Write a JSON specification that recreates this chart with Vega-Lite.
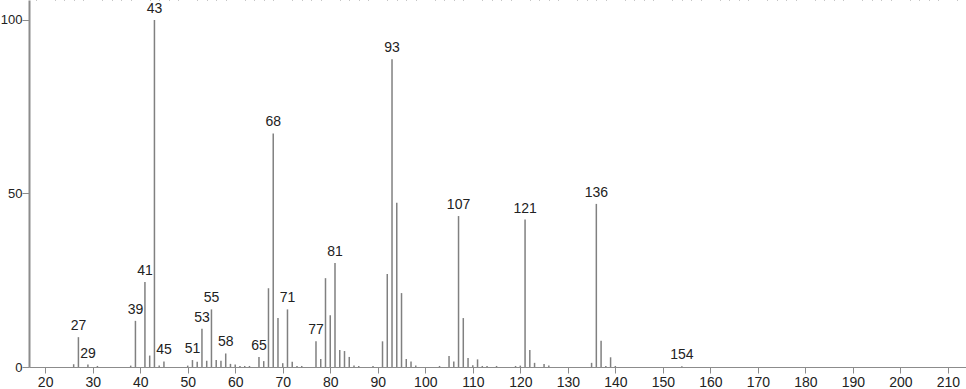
{
  "$schema": "https://vega.github.io/schema/vega-lite/v6.json",
  "width": 937,
  "height": 367,
  "autosize": {"type": "none"},
  "padding": {"left": 29, "top": 0, "right": 0, "bottom": 22},
  "background": "white",
  "config": {
    "view": {"stroke": null},
    "axis": {"labelFont": "Liberation Sans", "labelFontSize": 14, "labelColor": "#222", "grid": false, "domainColor": "#8c8c8c", "tickColor": "#8c8c8c"},
    "text": {"font": "Liberation Sans", "fontSize": 14, "color": "#222"}
  },
  "data": {
    "values": [
      {"mz": 26, "intensity": 0.8, "label": ""},
      {"mz": 27, "intensity": 8.6, "label": "27"},
      {"mz": 29, "intensity": 0.7, "label": "29"},
      {"mz": 31, "intensity": 0.3, "label": ""},
      {"mz": 38, "intensity": 0.4, "label": ""},
      {"mz": 39, "intensity": 13.3, "label": "39"},
      {"mz": 41, "intensity": 24.5, "label": "41"},
      {"mz": 42, "intensity": 3.3, "label": ""},
      {"mz": 43, "intensity": 100, "label": "43"},
      {"mz": 44, "intensity": 0.4, "label": ""},
      {"mz": 45, "intensity": 1.6, "label": "45"},
      {"mz": 50, "intensity": 0.4, "label": ""},
      {"mz": 51, "intensity": 2.0, "label": "51"},
      {"mz": 52, "intensity": 1.5, "label": ""},
      {"mz": 53, "intensity": 11.0, "label": "53"},
      {"mz": 54, "intensity": 1.8, "label": ""},
      {"mz": 55, "intensity": 16.6, "label": "55"},
      {"mz": 56, "intensity": 2.0, "label": ""},
      {"mz": 57, "intensity": 1.8, "label": ""},
      {"mz": 58, "intensity": 3.9, "label": "58"},
      {"mz": 59, "intensity": 0.9, "label": ""},
      {"mz": 60, "intensity": 0.7, "label": ""},
      {"mz": 61, "intensity": 0.3, "label": ""},
      {"mz": 62, "intensity": 0.3, "label": ""},
      {"mz": 63, "intensity": 0.3, "label": ""},
      {"mz": 65, "intensity": 2.9, "label": "65"},
      {"mz": 66, "intensity": 1.7, "label": ""},
      {"mz": 67, "intensity": 22.7, "label": ""},
      {"mz": 68, "intensity": 67.3, "label": "68"},
      {"mz": 69, "intensity": 14.1, "label": ""},
      {"mz": 70, "intensity": 1.1, "label": ""},
      {"mz": 71, "intensity": 16.6, "label": "71"},
      {"mz": 72, "intensity": 1.5, "label": ""},
      {"mz": 73, "intensity": 0.3, "label": ""},
      {"mz": 74, "intensity": 0.3, "label": ""},
      {"mz": 77, "intensity": 7.4, "label": "77"},
      {"mz": 78, "intensity": 2.3, "label": ""},
      {"mz": 79, "intensity": 25.6, "label": ""},
      {"mz": 80, "intensity": 14.9, "label": ""},
      {"mz": 81, "intensity": 30.0, "label": "81"},
      {"mz": 82, "intensity": 4.9, "label": ""},
      {"mz": 83, "intensity": 4.6, "label": ""},
      {"mz": 84, "intensity": 2.9, "label": ""},
      {"mz": 85, "intensity": 0.4, "label": ""},
      {"mz": 86, "intensity": 0.3, "label": ""},
      {"mz": 89, "intensity": 0.3, "label": ""},
      {"mz": 91, "intensity": 7.4, "label": ""},
      {"mz": 92, "intensity": 26.8, "label": ""},
      {"mz": 93, "intensity": 88.7, "label": "93"},
      {"mz": 94, "intensity": 47.3, "label": ""},
      {"mz": 95, "intensity": 21.3, "label": ""},
      {"mz": 96, "intensity": 2.3, "label": ""},
      {"mz": 97, "intensity": 1.6, "label": ""},
      {"mz": 98, "intensity": 0.4, "label": ""},
      {"mz": 103, "intensity": 0.3, "label": ""},
      {"mz": 105, "intensity": 3.2, "label": ""},
      {"mz": 106, "intensity": 1.6, "label": ""},
      {"mz": 107, "intensity": 43.5, "label": "107"},
      {"mz": 108, "intensity": 14.1, "label": ""},
      {"mz": 109, "intensity": 2.6, "label": ""},
      {"mz": 110, "intensity": 0.5, "label": ""},
      {"mz": 111, "intensity": 2.2, "label": ""},
      {"mz": 112, "intensity": 0.3, "label": ""},
      {"mz": 113, "intensity": 0.3, "label": ""},
      {"mz": 115, "intensity": 0.3, "label": ""},
      {"mz": 119, "intensity": 0.3, "label": ""},
      {"mz": 120, "intensity": 0.4, "label": ""},
      {"mz": 121, "intensity": 42.5, "label": "121"},
      {"mz": 122, "intensity": 4.9, "label": ""},
      {"mz": 123, "intensity": 1.2, "label": ""},
      {"mz": 125, "intensity": 0.9, "label": ""},
      {"mz": 126, "intensity": 0.4, "label": ""},
      {"mz": 135, "intensity": 1.2, "label": ""},
      {"mz": 136, "intensity": 47.0, "label": "136"},
      {"mz": 137, "intensity": 7.6, "label": ""},
      {"mz": 138, "intensity": 0.3, "label": ""},
      {"mz": 139, "intensity": 2.8, "label": ""},
      {"mz": 140, "intensity": 0.3, "label": ""},
      {"mz": 154, "intensity": 0.2, "label": "154"}
    ]
  },
  "resolve": {"axis": {"x": "independent", "y": "independent"}},
  "layer": [
    {
      "mark": {"type": "rule", "color": "#808080", "strokeWidth": 1.5},
      "encoding": {
        "x": {"field": "mz", "type": "quantitative", "scale": {"domain": [16.6, 213.8], "nice": false, "zero": false},
              "axis": {"title": null, "values": [20,30,40,50,60,70,80,90,100,110,120,130,140,150,160,170,180,190,200,210], "tickSize": 6, "labelPadding": 2, "domainWidth": 1}},
        "y": {"field": "intensity", "type": "quantitative", "scale": {"domain": [0, 105.76], "nice": false},
              "axis": {"title": null, "values": [0, 50, 100], "tickSize": 7, "labelPadding": 0, "labelFontSize": 13, "domainWidth": 2}},
        "y2": {"datum": 0}
      }
    },
    {
      "mark": {"type": "rule", "opacity": 0},
      "encoding": {
        "x": {"field": "mz", "type": "quantitative",
              "axis": {"title": null, "values": [18,22,24,26,28,32,34,36,38,42,44,46,48,52,54,56,58,62,64,66,68,72,74,76,78,82,84,86,88,92,94,96,98,102,104,106,108,112,114,116,118,122,124,126,128,132,134,136,138,142,144,146,148,152,154,156,158,162,164,166,168,172,174,176,178,182,184,186,188,192,194,196,198,202,204,206,208,212], "tickSize": 3, "labels": false, "domain": false}},
        "y": {"field": "intensity", "type": "quantitative",
              "axis": {"title": null, "values": [25, 75], "tickSize": 3, "labels": false, "domain": false}}
      }
    },
    {
      "transform": [{"filter": "datum.label !== ''"}],
      "mark": {"type": "text", "baseline": "bottom", "dy": -4},
      "encoding": {
        "x": {"field": "mz", "type": "quantitative", "axis": null},
        "y": {"field": "intensity", "type": "quantitative", "axis": null},
        "text": {"field": "label"}
      }
    }
  ]
}
